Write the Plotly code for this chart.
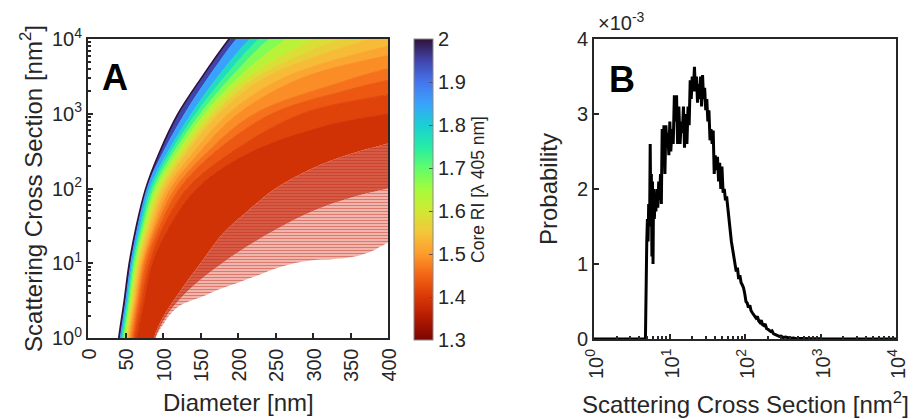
import plotly.graph_objects as go

W, H = 914, 419
FONT = "Liberation Sans, Arial, sans-serif"
INK = "#262626"

# ---------------- Panel A: RI contour curves (diameter nm, cross section nm^2) -------------
ri_levels = [1.30, 1.34, 1.38, 1.40, 1.425, 1.45, 1.475, 1.50, 1.525, 1.55, 1.575, 1.60,
             1.65, 1.70, 1.75, 1.80, 1.90, 2.00]

c130_d = [85, 90, 100, 110, 125, 150, 175, 200, 225, 250, 275, 300, 325, 350, 375, 400, 420]
c130_y = [0.5, 1, 1.5, 2.1, 2.8, 3.5, 4.5, 5.5, 6.8, 8.5, 10, 11, 11.3, 12, 14, 19, 23]

c134_d = [86, 90, 105, 125, 150, 200, 250, 300, 350, 400, 420]
c134_y = [0.5, 1, 2.0, 3.5, 6, 14, 28, 50, 75, 100, 110]

c138_d = [84, 88, 100, 124, 150, 180, 213, 250, 301, 350, 400, 420]
c138_y = [0.5, 1, 1.9, 4.4, 10, 25, 50, 100, 190, 290, 400, 450]

c140_d = [60, 65, 75, 86, 108, 145, 215, 320, 400, 420]
c140_y = [0.5, 1, 3, 10, 30, 100, 300, 700, 1000, 1100]

c1425_d = [57, 62, 71, 82, 100, 132, 190, 285, 400, 420]
c1425_y = [0.5, 1, 3, 10, 30, 100, 300, 1000, 1800, 1950]

c145_d = [55, 60, 68, 78, 95, 122, 168, 245, 340, 400, 420]
c145_y = [0.5, 1, 3, 10, 30, 100, 300, 1000, 2000, 2800, 3000]

c1475_d = [53, 58, 66, 75, 91, 116, 158, 222, 330, 400, 420]
c1475_y = [0.5, 1, 3, 10, 30, 100, 300, 1000, 2500, 4000, 4300]

c150_d = [52, 56, 64, 73, 88, 110, 148, 200, 285, 400, 420]
c150_y = [0.5, 1, 3, 10, 30, 100, 300, 1000, 3000, 6000, 6500]

c1525_d = [50, 54, 62, 71, 85, 105, 140, 187, 260, 400, 420]
c1525_y = [0.5, 1, 3, 10, 30, 100, 300, 1000, 3000, 8000, 8600]

y_grid = [0.5, 1, 3, 10, 30, 100, 300, 1000, 3000, 10000, 14000]
c155_d = [49, 53, 61, 69, 82, 101, 132, 175, 235, 375, 420]
c1575_d = [48, 52, 59, 67, 80, 98, 128, 169, 223, 335, 380]
c160_d = [47, 51, 58, 66, 78, 95, 124, 163, 212, 300, 330]
c165_d = [46, 49, 56, 64, 75, 91, 119, 156, 200, 265, 290]
c170_d = [45, 48, 55, 62, 73, 88, 114, 150, 190, 242, 265]
c175_d = [43, 46, 53, 60, 71, 85, 110, 144, 181, 228, 248]
c180_d = [42, 45, 52, 59, 69, 82, 106, 138, 172, 216, 235]
c190_d = [40, 43, 50, 57, 66, 78, 100, 129, 160, 198, 212]
c200_d = [38, 41, 48, 55, 64, 77, 95, 120, 151, 188, 200]

curves = [
    (c130_d, c130_y), (c134_d, c134_y), (c138_d, c138_y), (c140_d, c140_y),
    (c1425_d, c1425_y), (c145_d, c145_y), (c1475_d, c1475_y), (c150_d, c150_y),
    (c1525_d, c1525_y), (c155_d, y_grid), (c1575_d, y_grid), (c160_d, y_grid),
    (c165_d, y_grid), (c170_d, y_grid), (c175_d, y_grid), (c180_d, y_grid),
    (c190_d, y_grid), (c200_d, y_grid),
]

diam_ticks = [0, 50, 100, 150, 200, 250, 300, 350, 400]

# ---------------- Panel B: probability distribution ----------------
sigma = [1, 4.8, 5.0, 5.1, 5.2, 5.3, 5.45, 5.55, 5.65, 5.75, 5.85, 5.95, 6.05, 6.15, 6.3, 6.45,
         6.6, 6.8, 7.0, 7.2, 7.4, 7.6, 7.8, 8.0, 8.2, 8.45, 8.7, 8.95, 9.2, 9.5, 9.8, 10.1,
         10.4, 10.8, 11.2, 11.6, 12.0, 12.4, 12.8, 13.3, 13.8, 14.3, 14.8, 15.3, 15.8, 16.4,
         17.0, 17.6, 18.2, 18.8, 19.4, 20.0, 20.7, 21.4, 22.1, 22.8, 23.5, 24.2, 25.0, 25.8,
         26.6, 27.4, 28.3, 29.2, 30.2, 31.2, 32.2, 33.3, 34.4, 35.5, 36.7, 37.9, 39.1, 40.4,
         41.8, 43.2, 44.7, 46.2, 47.8, 49.5, 51.3, 53.2, 55.1, 57.1, 59.2, 61.4, 63.6, 66.0,
         68.5, 71.0, 73.7, 76.5, 79.4, 82.4, 85.5, 88.8, 92.2, 95.7, 99.4, 103, 107, 111, 116,
         120, 125, 130, 135, 140, 146, 152, 158, 164, 171, 178, 185, 193, 201, 210, 219, 228,
         238, 249, 260, 272, 285, 300, 320, 345, 370, 400, 440, 480, 530, 600, 700, 800, 950,
         1100, 10000]
prob_e3 = [0, 0, 1.3, 1.6, 1.3, 1.8, 1.5, 2.6, 1.7, 2.2, 1.1, 2.1, 1.0, 2.0, 1.6, 1.9,
           1.7, 2.0, 1.75, 2.1, 1.85, 2.2, 1.8, 2.8, 2.5, 2.85, 2.2, 2.85, 2.6, 2.75, 2.45, 2.9,
           2.5, 2.8, 2.6, 3.25, 2.9, 3.25, 2.6, 3.1, 2.6, 2.9, 2.75, 3.1, 2.55, 3.0,
           2.6, 3.1, 2.85, 3.45, 3.2, 3.5, 3.3, 3.63, 3.3, 3.5, 3.15, 3.4, 3.2, 3.5,
           3.1, 3.52, 3.2, 3.35, 3.05, 3.2, 2.9, 3.05, 2.65, 2.8, 2.6, 2.78, 2.2, 2.45,
           2.25, 2.43, 2.1, 2.35, 2.0, 2.3, 1.95, 2.0, 1.85, 1.9, 1.75, 1.6, 1.4, 1.3,
           1.2, 1.1, 1.0, 0.9, 0.95, 0.8, 0.85, 0.75, 0.72, 0.68, 0.6, 0.5, 0.48, 0.42, 0.45,
           0.38, 0.35, 0.33, 0.3, 0.28, 0.3, 0.24, 0.22, 0.25, 0.19, 0.18, 0.2, 0.14, 0.13, 0.12, 0.1, 0.11,
           0.07, 0.06, 0.05, 0.04, 0.035, 0.04, 0.02, 0.025, 0.015, 0.01, 0.012, 0.005, 0.008, 0.004, 0.005, 0.002, 0.003,
           0, 0]
prob = [p * 1e-3 for p in prob_e3]

TURBO = ['#30123b', '#4145ab', '#4675ed', '#39a2fc', '#1bcfd4', '#24eca6', '#61fc6c', '#a4fc3b',
         '#d1e834', '#f3c63a', '#fe9b2d', '#f36315', '#d93806', '#b11901', '#7a0402']
RI_MIN, RI_MAX = 1.3, 2.0


def turbo_rgb(t):
    t = min(max(t, 0.0), 1.0)
    pos = t * (len(TURBO) - 1)
    i = min(int(pos), len(TURBO) - 2)
    f = pos - i
    a = [int(TURBO[i][k:k + 2], 16) for k in (1, 3, 5)]
    b = [int(TURBO[i + 1][k:k + 2], 16) for k in (1, 3, 5)]
    return [a[j] + (b[j] - a[j]) * f for j in range(3)]


def ri_rgb(ri):
    c = turbo_rgb((RI_MAX - ri) / (RI_MAX - RI_MIN))
    return "rgb(%d,%d,%d)" % tuple(int(round(v)) for v in c)


def closed(dd, yy):
    """Append off-canvas points so neighbouring band polygons close outside the plot."""
    xs, ys = list(dd), list(yy)
    if ys[-1] >= 1e4:
        xs += [xs[-1], 1000]
        ys += [1e6, 1e6]
    else:
        xs += [1000, 1000]
        ys += [ys[-1], 1e6]
    return xs, ys


fig = go.Figure()
for k, ((dd, yy), ri) in enumerate(zip(curves, ri_levels)):
    xs, ys = closed(dd, yy)
    common = dict(x=xs, y=ys, mode="lines", hoverinfo="skip", showlegend=False, xaxis="x", yaxis="y")
    clear = dict(color="rgba(0,0,0,0)", width=0, shape="spline")
    if k == 0:
        fig.add_trace(go.Scatter(line=clear, **common))
        continue
    mid = 0.5 * (ri + ri_levels[k - 1])
    if k == 1:
        fig.add_trace(go.Scatter(fill="tonexty", line=clear,
                                 fillpattern=dict(shape="-", fgcolor="rgb(196,42,22)", bgcolor="rgb(246,200,194)",
                                                  size=3, solidity=0.5),
                                 **common))
    elif k == 2:
        fig.add_trace(go.Scatter(fill="tonexty", line=clear,
                                 fillpattern=dict(shape="-", fgcolor="rgb(192,38,8)", bgcolor="rgb(218,100,82)",
                                                  size=3, solidity=0.55),
                                 **common))
    else:
        col = ri_rgb(mid)
        lcol = ri_rgb(2.0) if ri == 2.0 else col
        lw = 1.6 if ri == 2.0 else 1
        fig.add_trace(go.Scatter(fill="tonexty", fillcolor=col, line=dict(color=lcol, width=lw, shape="spline"),
                                 **common))

# colorbar carrier
fig.add_trace(go.Scatter(
    x=[-100], y=[0.1], mode="markers", xaxis="x", yaxis="y", showlegend=False, hoverinfo="skip",
    marker=dict(size=1, color=[RI_MIN], colorscale="Turbo", reversescale=True, cmin=RI_MIN, cmax=RI_MAX,
                showscale=True,
                colorbar=dict(x=414 / W, xanchor="left", xpad=0, y=1 - 189.5 / H, yanchor="middle", ypad=0,
                              len=301 / H, lenmode="fraction", thickness=19, thicknessmode="pixels",
                              outlinewidth=1, outlinecolor="#888", ticks="inside", ticklen=4,
                              tickcolor="#555", tickvals=[1.3, 1.4, 1.5, 1.6, 1.7, 1.8, 1.9, 2.0],
                              ticktext=["1.3", "1.4", "1.5", "1.6", "1.7", "1.8", "1.9", "2"],
                              tickfont=dict(family=FONT, size=20, color=INK),
                              title=dict(text="Core RI [λ 405 nm]", side="right",
                                         font=dict(family=FONT, size=17.5, color=INK))))))

fig.add_trace(go.Scatter(x=sigma, y=prob, mode="lines", line=dict(color="black", width=3),
                         showlegend=False, xaxis="x2", yaxis="y2"))

decades = [1, 10, 100, 1000, 10000]
pw = ["10<sup>%d</sup>" % i for i in range(5)]
minor_vals = [m * 10 ** e for e in range(4) for m in range(2, 10)]
axis_common = dict(showline=True, mirror=True, linecolor=INK, linewidth=2, showgrid=False, zeroline=False,
                   ticks="inside", tickcolor=INK, ticklen=5, tickwidth=1.5,
                   tickfont=dict(family=FONT, size=20, color=INK))
log_minor = dict(ticks="inside", ticklen=3, tickcolor=INK, tickvals=minor_vals, showgrid=False)

ann = [
    dict(text="<b>A</b>", x=100 / W, y=1 - 55 / H, xanchor="left", yanchor="top",
         font=dict(family=FONT, size=36, color="black")),
    dict(text="<b>B</b>", x=607 / W, y=1 - 57 / H, xanchor="left", yanchor="top",
         font=dict(family=FONT, size=36, color="black")),
    dict(text="×10<sup>-3</sup>", x=596 / W, y=1 - 21 / H, xanchor="left", yanchor="middle",
         font=dict(family=FONT, size=20, color=INK)),
    dict(text="Diameter [nm]", x=238 / W, y=1 - 402 / H, xanchor="center", yanchor="middle",
         font=dict(family=FONT, size=24, color=INK)),
    dict(text="Scattering Cross Section [nm<sup>2</sup>]", x=745 / W, y=1 - 403 / H, xanchor="center",
         yanchor="middle", font=dict(family=FONT, size=24, color=INK)),
]
for a in ann:
    a.update(xref="paper", yref="paper", showarrow=False)
for v in diam_ticks:
    ann.append(dict(text=str(v), x=v, xref="x", y=1 - 347 / H, yref="paper", textangle=-90,
                    xanchor="center", yanchor="top", showarrow=False,
                    font=dict(family=FONT, size=20, color=INK)))
for i, t in enumerate(pw):
    ann.append(dict(text=t, x=i, xref="x2", y=1 - 347 / H, yref="paper", textangle=-90,
                    xanchor="center", yanchor="top", showarrow=False,
                    font=dict(family=FONT, size=20, color=INK)))

fig.update_layout(
    width=W, height=H, margin=dict(l=0, r=0, t=0, b=0, autoexpand=False),
    paper_bgcolor="white", plot_bgcolor="white",
    font=dict(family=FONT, color=INK),
    xaxis=dict(domain=[88 / W, 388 / W], range=[0, 400], tickvals=diam_ticks, showticklabels=False,
               anchor="y", **axis_common),
    yaxis=dict(domain=[1 - 338 / H, 1 - 39 / H], type="log", range=[0, 4], tickvals=decades,
               ticktext=pw, minor=log_minor,
               title=dict(text="Scattering Cross Section [nm<sup>2</sup>]", font=dict(size=24), standoff=3),
               anchor="x", **axis_common),
    xaxis2=dict(domain=[594 / W, 896 / W], type="log", range=[0, 4], tickvals=decades,
                showticklabels=False, minor=log_minor, anchor="y2", **axis_common),
    yaxis2=dict(domain=[1 - 339 / H, 1 - 39 / H], range=[0, 0.004], tickvals=[0, 0.001, 0.002, 0.003, 0.004],
                ticktext=["0", "1", "2", "3", "4"],
                title=dict(text="Probability", font=dict(size=24), standoff=12), anchor="x2", **axis_common),
    annotations=ann,
)

fig.write_html("out.html")
